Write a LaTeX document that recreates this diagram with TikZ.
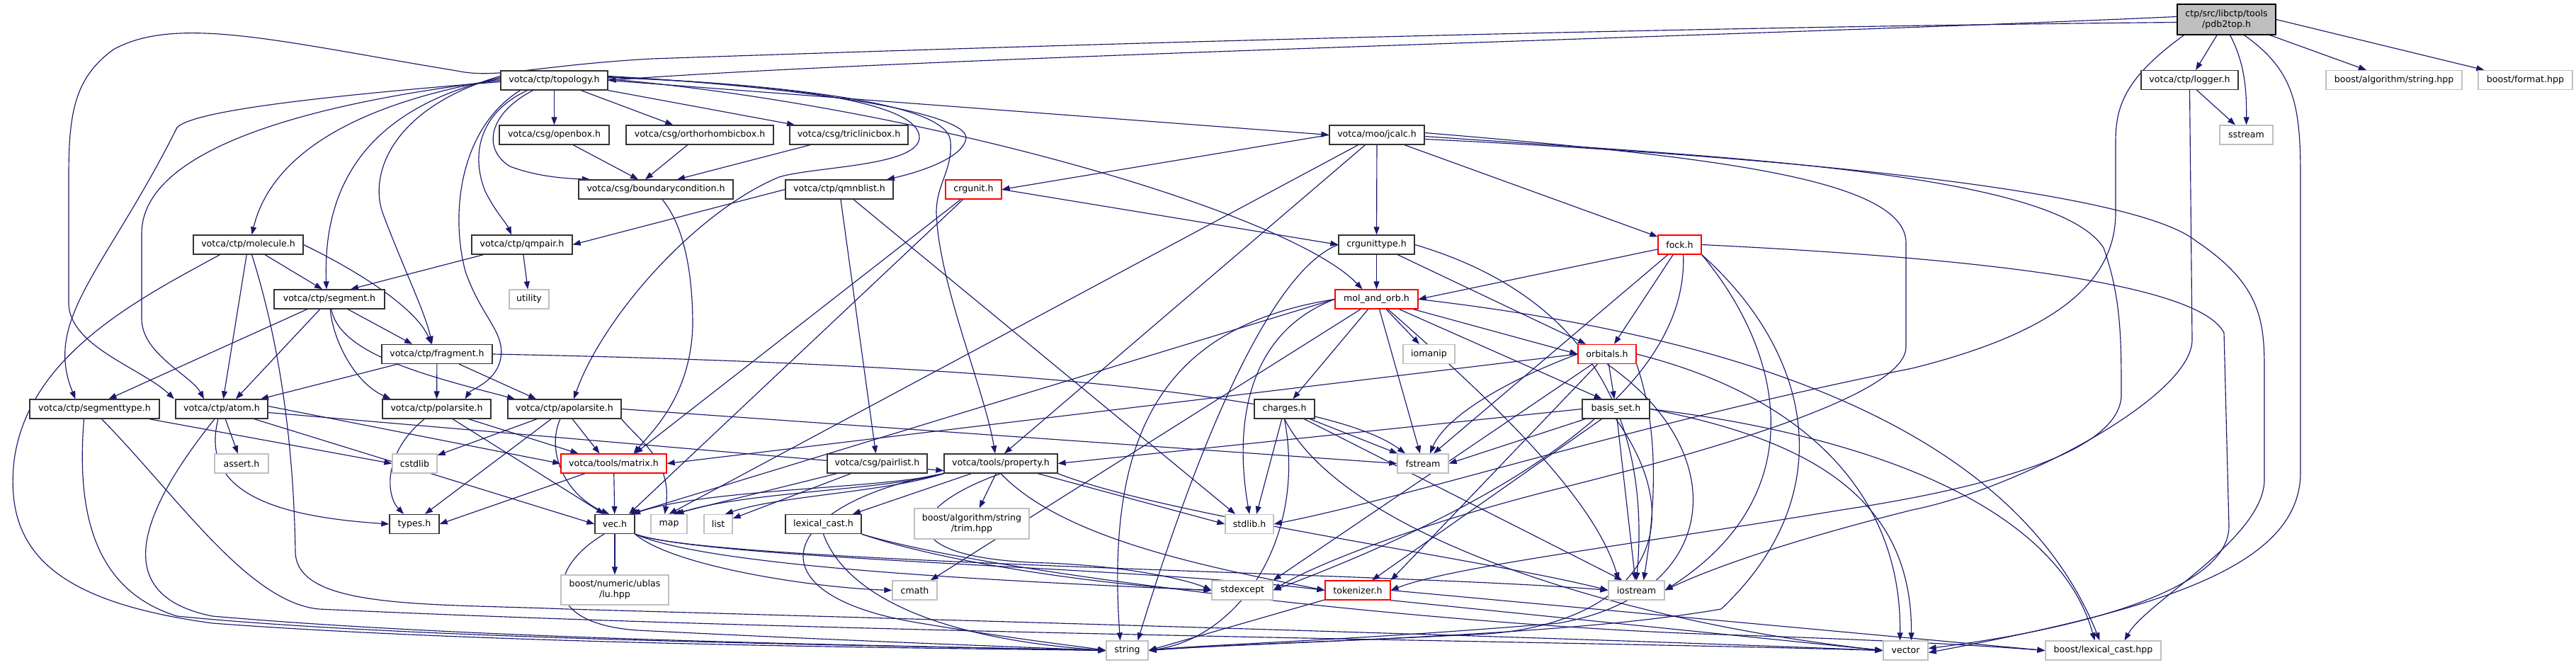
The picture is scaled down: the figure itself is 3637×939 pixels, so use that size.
\documentclass[tikz,border=0pt]{standalone}
\usepackage{fontspec}
\setmainfont{DejaVu Sans}
\usetikzlibrary{arrows.meta}
\definecolor{edgec}{HTML}{191970}
\definecolor{extc}{HTML}{BFBFBF}
\definecolor{redc}{HTML}{FF0000}
\definecolor{rootc}{HTML}{BFBFBF}
\pgfdeclarelayer{bgzero}
\pgfdeclarelayer{edges}
\pgfsetlayers{bgzero,edges,main}
\tikzset{
  nbox/.style={draw=black!80, line width=1.3pt, fill=white, minimum height=27pt, inner sep=0pt, font=\fontsize{12.6pt}{15pt}\selectfont, align=center},
  redbox/.style={nbox, draw=redc},
  extbox/.style={nbox, draw=extc},
  rootbox/.style={nbox, fill=rootc, draw=black},
  e/.style={draw=edgec, line width=1.15pt, -{Triangle[length=11pt,width=8pt]}, fill=none}
}
\newcommand{\N}[6]{\node[#5, minimum width=#4pt] (#1) at (#2,#3) {#6};}
\begin{document}
\begin{tikzpicture}[x=1pt,y=-1pt]
\begin{pgfonlayer}{bgzero}
\fill[white] (0,0) rectangle (3637,939);
\end{pgfonlayer}
\useasboundingbox (0,0) rectangle (3637,939);
% nodes
\N{P}{3143.5}{27.5}{139}{rootbox,minimum height=43pt}{ctp/src/libctp/tools\\/pdb2top.h}
\N{T}{782.5}{113.5}{151}{nbox}{votca/ctp/topology.h}
\N{LOG}{3091.5}{113}{137}{nbox}{votca/ctp/logger.h}
\N{BAS}{3380}{113}{192}{extbox}{boost/algorithm/string.hpp}
\N{BF}{3565.5}{113}{133}{extbox}{boost/format.hpp}
\N{SS}{3171.5}{190.5}{75}{extbox}{sstream}
\N{OB}{782.5}{190.5}{155}{nbox}{votca/csg/openbox.h}
\N{OR}{988}{190.5}{208}{nbox}{votca/csg/orthorhombicbox.h}
\N{TR}{1198.5}{190.5}{167}{nbox}{votca/csg/triclinicbox.h}
\N{JC}{1944}{190.5}{134}{nbox}{votca/moo/jcalc.h}
\N{BC}{926}{267.5}{218}{nbox}{votca/csg/boundarycondition.h}
\N{QNB}{1185}{267.5}{152}{nbox}{votca/ctp/qmnblist.h}
\N{CU}{1374.5}{267.5}{79}{redbox}{crgunit.h}
\N{MOL}{350.5}{345.5}{155}{nbox}{votca/ctp/molecule.h}
\N{QP}{737}{345.5}{142}{nbox}{votca/ctp/qmpair.h}
\N{CUT}{1943.5}{345.5}{107}{nbox}{crgunittype.h}
\N{FOCK}{2371.5}{345.5}{61}{redbox}{fock.h}
\N{SEG}{465}{422.5}{156}{nbox}{votca/ctp/segment.h}
\N{UT}{747}{422.5}{56}{extbox}{utility}
\N{MAO}{1943.5}{422.5}{117}{redbox}{mol\_and\_orb.h}
\N{FRAG}{617}{500}{156}{nbox}{votca/ctp/fragment.h}
\N{IOM}{2017.5}{500}{73}{extbox}{iomanip}
\N{ORB}{2269}{500}{82}{redbox}{orbitals.h}
\N{ST}{133.5}{577.5}{183}{nbox}{votca/ctp/segmenttype.h}
\N{AT}{313}{577.5}{130}{nbox}{votca/ctp/atom.h}
\N{PS}{616.5}{577.5}{153}{nbox}{votca/ctp/polarsite.h}
\N{APS}{797}{577.5}{160}{nbox}{votca/ctp/apolarsite.h}
\N{CH}{1813.5}{577.5}{85}{nbox}{charges.h}
\N{BS}{2281.5}{577.5}{95}{nbox}{basis\_set.h}
\N{ASS}{341}{654.5}{76}{extbox}{assert.h}
\N{CSTD}{585.5}{654.5}{63}{extbox}{cstdlib}
\N{MAT}{866.5}{654.5}{149}{redbox}{votca/tools/matrix.h}
\N{PL}{1238.5}{654.5}{141}{nbox}{votca/csg/pairlist.h}
\N{PROP}{1413}{654.5}{160}{nbox}{votca/tools/property.h}
\N{FS}{2009}{654.5}{72}{extbox}{fstream}
\N{TY}{585}{740}{70}{nbox}{types.h}
\N{VEC}{868}{740}{56}{nbox}{vec.h}
\N{MAP}{944.5}{740}{51}{extbox}{map}
\N{LIST}{1014}{740}{40}{extbox}{list}
\N{LC}{1162.5}{740}{107}{nbox}{lexical\_cast.h}
\N{TRIM}{1372}{739.5}{162}{extbox,minimum height=43pt}{boost/algorithm/string\\/trim.hpp}
\N{SL}{1764}{740}{68}{extbox}{stdlib.h}
\N{LU}{868}{833}{152}{extbox,minimum height=42pt}{boost/numeric/ublas\\/lu.hpp}
\N{CM}{1291.5}{833.5}{63}{extbox}{cmath}
\N{SE}{1754}{833.5}{86}{extbox}{stdexcept}
\N{TOK}{1917}{833.5}{92}{redbox}{tokenizer.h}
\N{IOS}{2310.5}{833.5}{79}{extbox}{iostream}
\N{STR}{1591.5}{918.5}{59}{extbox}{string}
\N{VECT}{2690.5}{918.5}{63}{extbox}{vector}
\N{BLC}{2969.5}{918.5}{163}{extbox}{boost/lexical\_cast.hpp}

\begin{pgfonlayer}{edges}
% ---- pdb2top
\draw[e] ([yshift=4pt]P.west) .. controls (2500,50) and (1300,80) .. (T.east);
\draw[e] ([yshift=-4pt]P.west) .. controls (2200,40) and (1300,70) .. (920,83) .. controls (760,92) and (700,112) .. (645,100) .. controls (400,60) and (250,20) .. (160,70) .. controls (105,110) and (97,160) .. (97,250) -- (97,430) .. controls (100,490) and (200,520) .. ([xshift=-67]AT.north);
\draw[e] ([xshift=-60]P.south) .. controls (3000,110) and (2987,150) .. (2987,200) -- (2987,300) .. controls (2987,400) and (2900,470) .. (2700,520) .. controls (2300,600) and (2000,700) .. (SL.east);
\draw[e] (P) -- (LOG);
\draw[e] ([xshift=5]P.south) .. controls (3170,90) and (3172,130) .. (SS.north);
\draw[e] ([xshift=25]P.south) .. controls (3240,100) and (3248,150) .. (3248,250) -- (3248,667) .. controls (3248,800) and (3050,860) .. ([yshift=-3]VECT.east);
\draw[e] (P) -- (BAS);
\draw[e] (P.east) -- (BF);
\draw[e] ([xshift=10]LOG.south) -- (SS);
\draw[e] (LOG.south) -- (3095,480) .. controls (3095,560) and (2850,690) .. (2700,720) .. controls (2500,770) and (2400,810) .. (IOS.east);

% ---- topology
\draw[e] (T) -- (OB);
\draw[e] (T) -- (OR);
\draw[e] (T) -- (TR);
\draw[e] (T.east) -- (JC.west);
\draw[e] ([xshift=-30]T.south) .. controls (690,160) and (680,210) .. (720,235) .. controls (760,250) and (800,252) .. ([xshift=-93]BC.north);
\draw[e] ([xshift=-38]T.south) .. controls (675,160) and (665,220) .. (685,270) .. controls (700,300) and (715,315) .. ([xshift=-15]QP.north);
\draw[e] ([xshift=-48]T.south) .. controls (650,180) and (635,300) .. (657,383) .. controls (680,450) and (716,470) .. (706,510) .. controls (698,540) and (665,550) .. ([xshift=40]PS.north);
\draw[e] ([yshift=6]T.west) .. controls (560,150) and (520,240) .. (540,300) .. controls (570,380) and (600,440) .. ([xshift=-7]FRAG.north);
\draw[e] ([yshift=4]T.west) .. controls (530,150) and (455,250) .. ([xshift=-4]SEG.north);
\draw[e] ([yshift=2]T.west) .. controls (480,150) and (380,230) .. ([xshift=5]MOL.north);
\draw[e] (T.west) .. controls (400,150) and (200,220) .. (200,330) -- (200,450) .. controls (200,500) and (270,530) .. ([xshift=-25]AT.north);
\draw[e] ([yshift=-2]T.west) .. controls (400,140) and (270,160) .. (250,180) .. controls (150,380) and (60,450) .. ([xshift=-27]ST.north);
\draw[e] ([yshift=4]T.east) .. controls (1150,120) and (1300,150) .. (1298,195) .. controls (1295,235) and (1150,235) .. (1100,250) .. controls (980,300) and (850,450) .. ([xshift=13]APS.north);
\draw[e] ([yshift=5]T.east) .. controls (1150,122) and (1340,150) .. (1342,200) .. controls (1345,240) and (1322,260) .. (1322,300) .. controls (1325,400) and (1390,550) .. ([xshift=-8]PROP.north);
\draw[e] ([yshift=6]T.east) .. controls (1150,124) and (1366,160) .. (1364,195) .. controls (1360,225) and (1290,245) .. ([xshift=67]QNB.north);
\draw[e] ([yshift=2]T.east) .. controls (1300,150) and (1820,300) .. ([xshift=-20]MAO.north);

% ---- csg boxes
\draw[e] (OB) -- ([xshift=-25]BC.north);
\draw[e] (OR) -- ([xshift=-15]BC.north);
\draw[e] (TR) -- ([xshift=30]BC.north);
\draw[e] ([xshift=9]BC.south) .. controls (975,330) and (978,420) .. (978,460) .. controls (975,560) and (920,610) .. ([xshift=28]MAT.north);

% ---- qmnblist, qmpair
\draw[e] (QNB.west) -- (QP.east);
\draw[e] (QNB) -- (PL);
\draw[e] ([xshift=20]QNB.south) -- ([xshift=-20]SL.north);
\draw[e] (QP) -- ([xshift=30]SEG.north);
\draw[e] (QP) -- (UT);

% ---- crgunit / jcalc
\draw[e] (CU.east) -- (CUT.west);
\draw[e] (CU) -- ([xshift=30]MAT.north);
\draw[e] (CU) -- ([xshift=20]VEC.north);
\draw[e] (JC.west) -- (CU.east);
\draw[e] (JC) -- (MAP.north);
\draw[e] (JC) -- ([xshift=5]PROP.north);
\draw[e] (JC) -- (CUT);
\draw[e] (JC) -- (FOCK);
\draw[e] ([yshift=-6]JC.east) .. controls (2400,215) and (3000,260) .. (3100,340) .. controls (3190,400) and (3197,450) .. (3197,520) -- (3197,677) .. controls (3197,760) and (3030,850) .. ([xshift=30]BLC.north);
\draw[e] ([yshift=-2]JC.east) .. controls (2400,220) and (2900,240) .. (2970,350) .. controls (2995,420) and (2995,480) .. (2995,560) .. controls (2990,640) and (2800,690) .. (2600,720) .. controls (2300,770) and (2050,800) .. (TOK.east);
\draw[e] ([yshift=3]JC.east) .. controls (2400,220) and (2691,250) .. (2691,343) -- (2691,490) .. controls (2691,560) and (2400,640) .. (2200,690) .. controls (2000,740) and (1850,800) .. (SE.east);

% ---- molecule, segment, fragment
\draw[e] ([xshift=-40]MOL.south) .. controls (200,420) and (40,500) .. (20,650) .. controls (5,780) and (80,850) .. (300,880) .. controls (700,910) and (1300,915) .. (STR.west);
\draw[e] (MOL) -- (AT);
\draw[e] ([xshift=5]MOL.south) .. controls (400,500) and (415,650) .. (417,780) .. controls (420,860) and (600,852) .. (800,860) .. controls (1500,880) and (2200,900) .. (VECT.west);
\draw[e] (MOL) -- ([xshift=-10]SEG.north);
\draw[e] (MOL.east) .. controls (520,390) and (590,440) .. ([xshift=-8]FRAG.north);
\draw[e] (SEG) -- ([xshift=20]ST.north);
\draw[e] (SEG) -- ([xshift=20]AT.north);
\draw[e] (SEG) .. controls (470,480) and (500,540) .. ([xshift=-65]PS.north);
\draw[e] (SEG) .. controls (480,500) and (600,530) .. ([xshift=-70]APS.north);
\draw[e] (SEG) -- ([xshift=-35]FRAG.north);
\draw[e] (FRAG) -- ([xshift=55]AT.north);
\draw[e] (FRAG) -- (PS);
\draw[e] (FRAG) -- ([xshift=-40]APS.north);
\draw[e] (FRAG.east) .. controls (1200,510) and (1850,540) .. ([xshift=-25]FS.north);

% ---- atom, segmenttype, polarsite, apolarsite
\draw[e] ([xshift=-10]AT.south) .. controls (200,720) and (150,840) .. (300,870) .. controls (700,905) and (1300,912) .. (STR.west);
\draw[e] ([xshift=-5]AT.south) .. controls (280,700) and (400,730) .. (TY.west);
\draw[e] (AT) -- (ASS);
\draw[e] (AT) -- (VEC.west);
\draw[e] ([yshift=-5]AT.east) -- ([yshift=-10]PROP.west);
\draw[e] ([yshift=4]AT.east) -- (MAT.west);
\draw[e] (ST) -- (CSTD.west);
\draw[e] ([xshift=-15]ST.south) .. controls (110,700) and (120,830) .. (250,870) .. controls (600,905) and (1300,912) .. (STR.west);
\draw[e] ([xshift=10]ST.south) .. controls (250,700) and (350,850) .. (450,860) .. controls (1200,895) and (2200,905) .. (VECT.west);
\draw[e] (PS) .. controls (540,640) and (545,700) .. ([xshift=-15]TY.north);
\draw[e] (PS) -- ([xshift=-15]VEC.north);
\draw[e] (PS) -- ([xshift=-50]MAT.north);
\draw[e] (APS) -- (CSTD);
\draw[e] (APS) -- ([xshift=15]TY.north);
\draw[e] (APS) .. controls (770,640) and (800,700) .. ([xshift=-8]VEC.north);
\draw[e] (APS) -- ([xshift=-20]MAT.north);
\draw[e] (APS.east) -- (FS.west);
\draw[e] (APS.south east) .. controls (900,620) and (950,650) .. ([xshift=-6]MAP.north);

% ---- matrix, pairlist, property
\draw[e] (MAT) -- (VEC);
\draw[e] (MAT) -- (TY.east);
\draw[e] (PL) -- ([xshift=6]MAP.north);
\draw[e] (PL) -- (LIST);
\draw[e] (PROP.south west) .. controls (1250,690) and (1000,690) .. ([xshift=25]VEC.north);
\draw[e] (PROP.south west) .. controls (1250,692) and (1050,695) .. ([xshift=10]MAP.north);
\draw[e] (PROP.south west) .. controls (1250,695) and (1100,700) .. ([xshift=10]LIST.north);
\draw[e] (PROP) -- (LC);
\draw[e] (PROP) -- (TRIM);
\draw[e] (PROP) -- (SL.west);
\draw[e] (PROP.south west) .. controls (1100,710) and (1050,840) .. (1300,880) .. controls (1450,905) and (1520,912) .. (STR.west);
\draw[e] (PROP.south) .. controls (1270,720) and (1260,790) .. (1480,795) .. controls (1600,800) and (1680,820) .. (SE.west);
\draw[e] (PROP.south) .. controls (1500,760) and (1700,800) .. (TOK.west);
\draw[e] (PROP.south east) .. controls (1650,730) and (2100,790) .. (IOS.west);

% ---- vec, lexical_cast, tokenizer
\draw[e] (VEC) -- (LU);
\draw[e] (VEC.south east) .. controls (950,800) and (1150,830) .. (CM.west);
\draw[e] ([xshift=-15]VEC.south) .. controls (775,800) and (760,880) .. (900,890) .. controls (1200,905) and (1400,912) .. (STR.west);
\draw[e] (VEC.south east) .. controls (1000,800) and (1400,820) .. (SE.west);
\draw[e] (VEC.south east) .. controls (1000,790) and (1600,800) .. (TOK.west);
\draw[e] (VEC.south east) .. controls (1000,795) and (2000,810) .. (IOS.west);
\draw[e] (LC.south) .. controls (1190,830) and (1300,900) .. (STR.west);
\draw[e] (LC.south east) .. controls (1350,800) and (1600,830) .. (SE.west);
\draw[e] (LC.south east) .. controls (1400,810) and (2000,880) .. (2400,895) .. controls (2700,905) and (2800,912) .. (BLC.west);
\draw[e] (TOK) -- (STR.east);
\draw[e] (TOK.south east) -- (VECT.west);
\draw[e] (TOK.east) -- (BLC.west);

% ---- crgunittype, fock
\draw[e] (CUT) -- (MAO);
\draw[e] (CUT.west) .. controls (1800,380) and (1700,600) .. ([xshift=15]STR.north);
\draw[e] (CUT) -- ([xshift=-30]ORB.north);
\draw[e] (CUT.east) .. controls (2250,420) and (2330,600) .. (IOS.north);
\draw[e] (FOCK) -- (MAO.east);
\draw[e] (FOCK) -- ([xshift=10]ORB.north);
\draw[e] (FOCK) -- ([xshift=15]FS.north);
\draw[e] ([xshift=5]FOCK.south) .. controls (2385,560) and (2100,720) .. (SE.east);
\draw[e] (FOCK.south east) .. controls (2520,500) and (2560,700) .. (IOS.east);
\draw[e] (FOCK.south east) .. controls (2560,500) and (2600,700) .. (2430,860) .. controls (2200,900) and (1800,905) .. (STR.east);
\draw[e] (FOCK.east) .. controls (2700,360) and (3100,390) .. (3140,470) -- (3147,743) .. controls (3147,850) and (2850,900) .. ([yshift=3]VECT.east);

% ---- mol_and_orb
\draw[e] (MAO.west) -- ([xshift=22]VEC.north);
\draw[e] (MAO.west) .. controls (1650,460) and (1560,600) .. ([xshift=-10]STR.north);
\draw[e] (MAO.west) .. controls (1760,470) and (1742,600) .. (SL.north);
\draw[e] (MAO) -- (CM);
\draw[e] (MAO) -- (CH);
\draw[e] (MAO) -- (FS);
\draw[e] (MAO) -- (IOM);
\draw[e] (MAO) .. controls (2100,560) and (2250,700) .. ([xshift=-25]IOS.north);
\draw[e] (MAO) -- ([xshift=-20]BS.north);
\draw[e] (MAO) -- (ORB.west);
\draw[e] (MAO.east) .. controls (2500,480) and (2850,620) .. ([xshift=-5]BLC.north);

% ---- orbitals, basis_set, charges
\draw[e] (ORB.west) -- (MAT.east);
\draw[e] (ORB.west) .. controls (2120,540) and (2040,590) .. ([xshift=10]FS.north);
\draw[e] (ORB) -- (TOK.north east);
\draw[e] (ORB) -- (SE.north east);
\draw[e] (ORB) -- (BS);
\draw[e] (ORB.south east) .. controls (2340,600) and (2340,700) .. ([xshift=10]IOS.north);
\draw[e] (ORB.south) .. controls (2450,640) and (2430,840) .. (2200,880) .. controls (1900,905) and (1700,910) .. (STR.east);
\draw[e] (ORB.east) .. controls (2550,560) and (2685,700) .. ([xshift=-8]VECT.north);
\draw[e] (BS.west) -- (PROP.east);
\draw[e] (BS) -- (FS.east);
\draw[e] (BS) -- (TOK);
\draw[e] (BS) -- (IOS);
\draw[e] (BS.south) .. controls (2400,760) and (2300,880) .. (2100,895) .. controls (1800,910) and (1700,912) .. (STR.east);
\draw[e] (BS.east) .. controls (2550,620) and (2700,700) .. ([xshift=8]VECT.north);
\draw[e] (BS.east) .. controls (2600,610) and (2900,700) .. ([xshift=-12]BLC.north);
\draw[e] (CH) -- ([xshift=10]SL.north);
\draw[e] (CH.south) .. controls (1845,760) and (1750,900) .. (STR.east);
\draw[e] (CH) -- (FS);
\draw[e] (CH) -- ([xshift=-20]IOS.north);
\draw[e] (CH.south) .. controls (1900,760) and (2300,880) .. (VECT.west);
\end{pgfonlayer}
\end{tikzpicture}
\end{document}
